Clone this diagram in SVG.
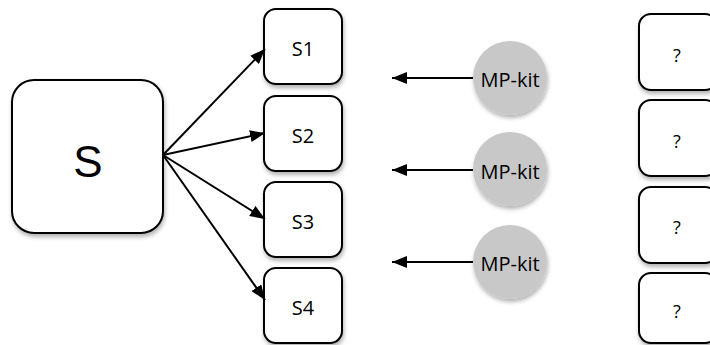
<svg xmlns="http://www.w3.org/2000/svg" width="710" height="345" viewBox="0 0 710 345">
<defs>
<filter id="sh" x="-20%" y="-20%" width="140%" height="140%">
<feDropShadow dx="1" dy="3" stdDeviation="2" flood-color="#000" flood-opacity="0.3"/>
</filter>
<marker id="ah" viewBox="0 0 15 12" refX="15" refY="6" markerWidth="15" markerHeight="12" markerUnits="userSpaceOnUse" orient="auto">
<path d="M0,0 L15,6 L0,12 z" fill="#000"/>
</marker>
</defs>
<style>
.box{fill:#fff;stroke:#000;stroke-width:2;filter:url(#sh)}
.kit{fill:#c8c8c8;stroke:none;filter:url(#sh)}
.t{font-family:"Open Sans","Liberation Sans",sans-serif;font-size:20px;fill:#000;text-anchor:middle;dominant-baseline:central}
.q{font-size:18px}
.big{font-family:"Liberation Sans",Arial,sans-serif;font-size:44px;fill:#000;text-anchor:middle;dominant-baseline:central}
.c{stroke:#000;stroke-width:2;fill:none}
</style>
<g id="S"><rect class="box" x="12" y="80" width="151" height="153" rx="22"/><text class="big" x="88" y="161">S</text></g>
<g id="S1"><rect class="box" x="264" y="9" width="78" height="75" rx="12"/><text class="t" x="303" y="48">S1</text></g>
<g id="S2"><rect class="box" x="264" y="96" width="78" height="75" rx="12"/><text class="t" x="303" y="135">S2</text></g>
<g id="S3"><rect class="box" x="264" y="182" width="78" height="75" rx="12"/><text class="t" x="303" y="221">S3</text></g>
<g id="S4"><rect class="box" x="264" y="268" width="78" height="75" rx="12"/><text class="t" x="303" y="307">S4</text></g>
<g id="K1"><circle class="kit" cx="510" cy="78" r="37"/><text class="t" x="510" y="79">MP-kit</text></g>
<g id="K2"><circle class="kit" cx="510" cy="169" r="37"/><text class="t" x="510" y="171">MP-kit</text></g>
<g id="K3"><circle class="kit" cx="510" cy="262" r="37"/><text class="t" x="510" y="263">MP-kit</text></g>
<g id="Q1"><rect class="box" x="639" y="14" width="78" height="76" rx="12"/><text class="t q" x="677" y="55">?</text></g>
<g id="Q2"><rect class="box" x="639" y="100" width="78" height="76" rx="12"/><text class="t q" x="677" y="141">?</text></g>
<g id="Q3"><rect class="box" x="639" y="187" width="78" height="76" rx="12"/><text class="t q" x="677" y="227">?</text></g>
<g id="Q4"><rect class="box" x="639" y="273" width="78" height="70" rx="12"/><text class="t q" x="677" y="311">?</text></g>
<g id="connectors">
<line class="c" x1="163" y1="155" x2="265" y2="49" marker-end="url(#ah)"/>
<line class="c" x1="163" y1="155" x2="265" y2="133" marker-end="url(#ah)"/>
<line class="c" x1="163" y1="155" x2="265" y2="219" marker-end="url(#ah)"/>
<line class="c" x1="163" y1="155" x2="265" y2="300" marker-end="url(#ah)"/>
<line class="c" x1="473" y1="78" x2="392" y2="78" marker-end="url(#ah)"/>
<line class="c" x1="473" y1="170" x2="392" y2="170" marker-end="url(#ah)"/>
<line class="c" x1="473" y1="262" x2="392" y2="262" marker-end="url(#ah)"/>
</g>
</svg>
